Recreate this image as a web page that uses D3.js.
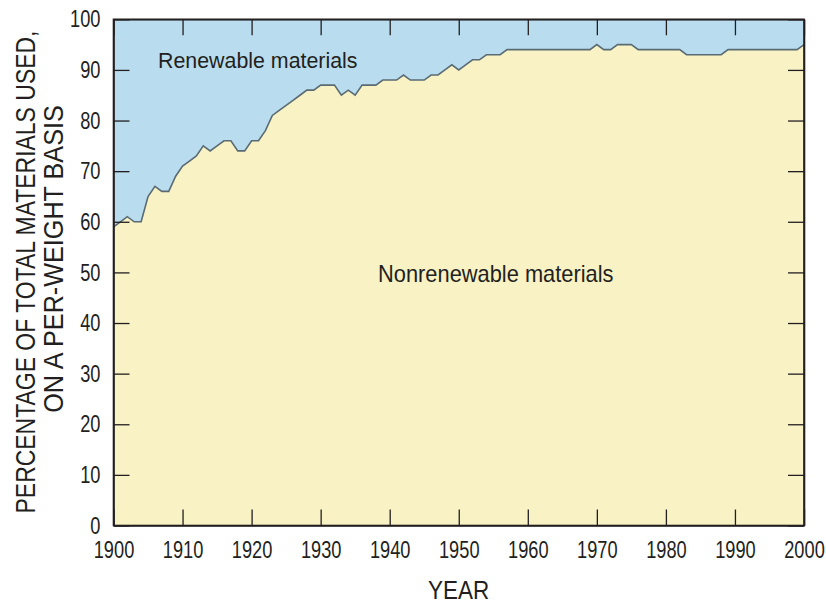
<!DOCTYPE html>
<html lang="en">
<head>
<meta charset="UTF-8">
<title>Renewable vs nonrenewable materials</title>
<script src="https://d3js.org/d3.v7.min.js"></script>
<style>
  body { margin: 0; background: #fff; }
  svg text { fill: #231f20; font-family: "Liberation Sans", Arial, sans-serif; }
  .tick text { font-size: 24px; }
  .title { font-size: 25px; }
  .ytitle { font-size: 28px; }
  .lab { font-size: 23px; }
</style>
</head>
<body>
<svg width="826" height="606"></svg>
<script>
// percentage of nonrenewable materials, one value per year, 1900-2000
var years = d3.range(1900, 2001);
var nonrenewable = [
  59, 60, 61, 60, 60, 65, 67, 66, 66, 69,   // 1900s
  71, 72, 73, 75, 74, 75, 76, 76, 74, 74,   // 1910s
  76, 76, 78, 81, 82, 83, 84, 85, 86, 86,   // 1920s
  87, 87, 87, 85, 86, 85, 87, 87, 87, 88,   // 1930s
  88, 88, 89, 88, 88, 88, 89, 89, 90, 91,   // 1940s
  90, 91, 92, 92, 93, 93, 93, 94, 94, 94,   // 1950s
  94, 94, 94, 94, 94, 94, 94, 94, 94, 94,   // 1960s
  95, 94, 94, 95, 95, 95, 94, 94, 94, 94,   // 1970s
  94, 94, 94, 93, 93, 93, 93, 93, 93, 94,   // 1980s
  94, 94, 94, 94, 94, 94, 94, 94, 94, 94,   // 1990s
  95                                        // 2000
];
var yTicks = [0, 10, 20, 30, 40, 50, 60, 70, 80, 90, 100];
var xTicks = [1900, 1910, 1920, 1930, 1940, 1950, 1960, 1970, 1980, 1990, 2000];

var data = years.map(function(y, i) { return { year: y, v: nonrenewable[i] }; });

var svg = d3.select("svg");
var mLeft = 113.5, mRight = 804, mTop = 19.3, mBottom = 525.5;
var narrow = 0.76;   // the original type is a condensed face

var x = d3.scaleLinear().domain([1900, 2000]).range([mLeft, mRight]);
var y = d3.scaleLinear().domain([0, 100]).range([mBottom, mTop]);

// renewable share fills the rest of the box
svg.append("rect")
  .attr("x", mLeft).attr("y", mTop)
  .attr("width", mRight - mLeft).attr("height", mBottom - mTop)
  .attr("fill", "#b9ddef");

var area = d3.area()
  .x(function(d) { return x(d.year); })
  .y0(y(0))
  .y1(function(d) { return y(d.v); });

svg.append("path").datum(data)
  .attr("d", area)
  .attr("fill", "#f8f2c4");

var line = d3.line()
  .x(function(d) { return x(d.year); })
  .y(function(d) { return y(d.v); });

svg.append("path").datum(data)
  .attr("d", line)
  .attr("fill", "none")
  .attr("stroke", "#5a6b73")
  .attr("stroke-width", 1.6);

// axes, ticks pointing inward on all four sides
var gx = svg.append("g").attr("transform", "translate(0," + mBottom + ")")
  .call(d3.axisBottom(x).tickValues(xTicks).tickFormat(d3.format("d")).tickSizeInner(-16).tickSizeOuter(0).tickPadding(15));
var gy = svg.append("g").attr("transform", "translate(" + mLeft + ",0)")
  .call(d3.axisLeft(y).tickValues(yTicks).tickSizeInner(-16).tickSizeOuter(0).tickPadding(13));
var gt = svg.append("g").attr("transform", "translate(0," + mTop + ")")
  .call(d3.axisTop(x).tickValues(xTicks).tickFormat("").tickSizeInner(-16).tickSizeOuter(0));
var gr = svg.append("g").attr("transform", "translate(" + mRight + ",0)")
  .call(d3.axisRight(y).tickValues(yTicks).tickFormat("").tickSizeInner(-16).tickSizeOuter(0));

svg.selectAll(".domain").attr("stroke", "#231f20").attr("stroke-width", 1.6);
svg.selectAll(".tick line").attr("stroke", "#231f20").attr("stroke-width", 1.3);
svg.selectAll(".tick text").attr("fill", "#231f20");
gx.selectAll(".tick text").attr("transform", "scale(" + narrow + ",1)");
gy.selectAll(".tick text")
  .attr("x", -13 / narrow)
  .attr("transform", "scale(" + narrow + ",1)");

// frame on top of the fills
svg.append("rect")
  .attr("x", mLeft).attr("y", mTop)
  .attr("width", mRight - mLeft).attr("height", mBottom - mTop)
  .attr("fill", "none")
  .attr("stroke", "#231f20")
  .attr("stroke-width", 1.6);

// labels inside the areas
svg.append("text").attr("class", "lab")
  .attr("transform", "translate(158,68) scale(0.93,1)")
  .text("Renewable materials");
svg.append("text").attr("class", "lab")
  .attr("transform", "translate(378,282) scale(0.95,1)")
  .text("Nonrenewable materials");

// axis titles
svg.append("text").attr("class", "title")
  .attr("text-anchor", "middle")
  .attr("transform", "translate(458.5,599) scale(0.9,1)")
  .text("YEAR");

svg.append("text").attr("class", "ytitle")
  .attr("text-anchor", "middle")
  .attr("transform", "translate(35,272) rotate(-90) scale(0.82,1)")
  .text("PERCENTAGE OF TOTAL MATERIALS USED,");
svg.append("text").attr("class", "ytitle")
  .attr("text-anchor", "middle")
  .attr("transform", "translate(63,259) rotate(-90) scale(0.9,1)")
  .text("ON A PER-WEIGHT BASIS");
</script>
</body>
</html>
